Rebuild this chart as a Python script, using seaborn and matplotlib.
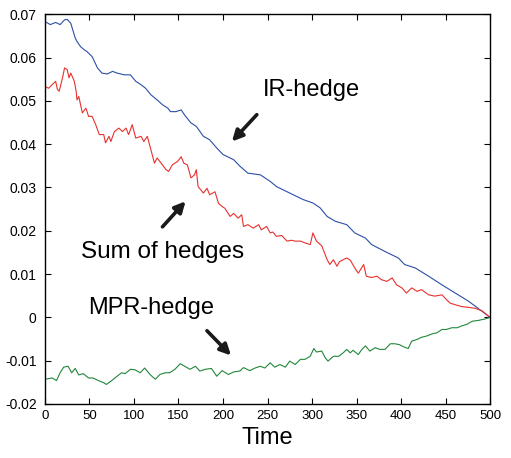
import matplotlib
matplotlib.use("Agg")
import matplotlib.pyplot as plt
import seaborn as sns
import pandas as pd

# Hedge components over time
ir_t = [0, 6, 12, 17, 22, 25, 29, 34, 36, 40, 44, 47, 53, 59, 64, 70, 76, 81, 89, 96,
        102, 108, 113, 119, 126, 132, 138, 141, 147, 153, 158, 164, 170, 178, 185, 193,
        200, 212, 219, 228, 242, 253, 260, 275, 290, 301, 309, 317, 326, 339, 348, 360,
        367, 382, 397, 404, 416, 431, 446, 461, 476, 491, 500]
ir_v = [0.0683, 0.0676, 0.0681, 0.0676, 0.0687, 0.0688, 0.0679, 0.0645, 0.0637, 0.0625,
        0.0618, 0.0614, 0.0602, 0.0576, 0.0564, 0.0562, 0.0568, 0.0564, 0.0560, 0.0560,
        0.0545, 0.0537, 0.0529, 0.0514, 0.0502, 0.0491, 0.0483, 0.0475, 0.0475, 0.0479,
        0.0464, 0.0449, 0.0441, 0.0418, 0.0410, 0.0391, 0.0376, 0.0364, 0.0349, 0.0333,
        0.0329, 0.0314, 0.0302, 0.0287, 0.0272, 0.0264, 0.0253, 0.0233, 0.0222, 0.0214,
        0.0195, 0.0183, 0.0168, 0.0152, 0.0137, 0.0122, 0.0114, 0.0095, 0.0075, 0.0056,
        0.0037, 0.0014, 0.0]

sum_t = [0, 4, 8, 12, 14, 16, 20, 22, 25, 27, 29, 33, 35, 36, 38, 42, 46, 49, 53, 57,
         61, 66, 68, 72, 74, 78, 83, 87, 91, 94, 98, 102, 108, 111, 115, 119, 123, 126,
         132, 136, 139, 143, 149, 153, 156, 160, 164, 168, 170, 172, 178, 182, 185, 191,
         195, 199, 202, 208, 212, 217, 221, 223, 228, 234, 240, 243, 249, 253, 256, 260,
         266, 272, 277, 281, 287, 292, 298, 301, 305, 311, 317, 320, 324, 328, 331, 339,
         343, 348, 352, 358, 361, 367, 373, 378, 384, 390, 395, 401, 406, 412, 418, 423,
         431, 438, 446, 451, 455, 461, 468, 476, 483, 491, 500]
sum_v = [0.0533, 0.0529, 0.0537, 0.0545, 0.0526, 0.0522, 0.0556, 0.0576, 0.0572, 0.0553,
         0.0564, 0.0545, 0.0522, 0.0502, 0.0510, 0.0472, 0.0483, 0.0464, 0.0464, 0.0445,
         0.0422, 0.0422, 0.0403, 0.0418, 0.0406, 0.0429, 0.0437, 0.0429, 0.0437, 0.0422,
         0.0445, 0.0414, 0.0418, 0.0406, 0.0418, 0.0387, 0.0356, 0.0368, 0.0352, 0.0341,
         0.0337, 0.0352, 0.0360, 0.0371, 0.0356, 0.0352, 0.0322, 0.0329, 0.0341, 0.0302,
         0.0287, 0.0298, 0.0283, 0.0290, 0.0263, 0.0256, 0.0252, 0.0233, 0.0240, 0.0229,
         0.0237, 0.0210, 0.0214, 0.0206, 0.0214, 0.0202, 0.0210, 0.0195, 0.0197, 0.0187,
         0.0189, 0.0176, 0.0178, 0.0176, 0.0176, 0.0172, 0.0168, 0.0195, 0.0176, 0.0165,
         0.0133, 0.0122, 0.0133, 0.0118, 0.0129, 0.0137, 0.0132, 0.0114, 0.0102, 0.0122,
         0.0095, 0.0092, 0.0095, 0.0087, 0.0083, 0.0091, 0.0075, 0.0068, 0.0056, 0.0068,
         0.0060, 0.0064, 0.0052, 0.0049, 0.0052, 0.0041, 0.0033, 0.0029, 0.0025, 0.0023,
         0.0021, 0.0015, 0.0]

mpr_t = [0, 8, 13, 17, 21, 26, 30, 34, 38, 43, 49, 54, 60, 66, 69, 75, 81, 86, 90, 96,
         101, 107, 112, 118, 124, 129, 135, 140, 146, 152, 157, 163, 169, 174, 180, 187,
         193, 199, 206, 212, 219, 223, 230, 236, 242, 247, 253, 258, 264, 270, 275, 281,
         287, 292, 298, 302, 305, 311, 315, 318, 324, 330, 335, 339, 343, 346, 352, 356,
         360, 365, 371, 376, 382, 388, 393, 398, 404, 408, 412, 418, 423, 429, 435, 440,
         446, 451, 457, 463, 468, 474, 480, 487, 494, 500]
mpr_v = [-0.0143, -0.0140, -0.0146, -0.0128, -0.0115, -0.0113, -0.0128, -0.0118, -0.0133,
         -0.0130, -0.0140, -0.0140, -0.0146, -0.0151, -0.0155, -0.0146, -0.0136, -0.0128,
         -0.0130, -0.0120, -0.0121, -0.0128, -0.0117, -0.0132, -0.0143, -0.0132, -0.0128,
         -0.0128, -0.0120, -0.0107, -0.0113, -0.0120, -0.0113, -0.0124, -0.0120, -0.0118,
         -0.0136, -0.0123, -0.0132, -0.0126, -0.0124, -0.0116, -0.0123, -0.0117, -0.0113,
         -0.0117, -0.0105, -0.0115, -0.0109, -0.0115, -0.0101, -0.0109, -0.0097, -0.0097,
         -0.0090, -0.0072, -0.0080, -0.0078, -0.0094, -0.0101, -0.0090, -0.0090, -0.0082,
         -0.0074, -0.0082, -0.0076, -0.0086, -0.0074, -0.0066, -0.0078, -0.0070, -0.0074,
         -0.0074, -0.0061, -0.0061, -0.0063, -0.0069, -0.0072, -0.0055, -0.0051, -0.0046,
         -0.0043, -0.0038, -0.0036, -0.0028, -0.0028, -0.0024, -0.0024, -0.0020, -0.0016,
         -0.0009, -0.0007, -0.0004, 0.0]

x_ticks = [0, 50, 100, 150, 200, 250, 300, 350, 400, 450, 500]
y_ticks = [-0.02, -0.01, 0, 0.01, 0.02, 0.03, 0.04, 0.05, 0.06, 0.07]
y_tick_labels = ["-0.02", "-0.01", "0", "0.01", "0.02", "0.03", "0.04", "0.05", "0.06", "0.07"]

df = pd.concat([
    pd.DataFrame({"Time": ir_t, "value": ir_v, "series": "IR-hedge"}),
    pd.DataFrame({"Time": sum_t, "value": sum_v, "series": "Sum of hedges"}),
    pd.DataFrame({"Time": mpr_t, "value": mpr_v, "series": "MPR-hedge"}),
])

sns.set_style("ticks")
plt.rcParams["font.family"] = ["Liberation Sans", "DejaVu Sans"]
plt.rcParams["text.color"] = "black"
plt.rcParams["axes.labelcolor"] = "black"

fig = plt.figure(figsize=(5.11, 4.58), dpi=100)
ax = fig.add_axes([0.088, 0.118, 0.871, 0.851])

palette = {"IR-hedge": "#2b4ea6", "Sum of hedges": "#e8312e", "MPR-hedge": "#23873a"}
sns.lineplot(data=df, x="Time", y="value", hue="series", palette=palette,
             estimator=None, linewidth=0.8, legend=False, ax=ax)

ax.set_xlim(0, 500)
ax.set_ylim(-0.02, 0.07)
ax.set_xticks(x_ticks)
ax.set_yticks(y_ticks)
ax.set_yticklabels(y_tick_labels)
ax.tick_params(direction="in", top=True, right=True, length=4, width=0.8,
               colors="black")
ax.tick_params(axis="x", labelsize=9.5, pad=4)
ax.tick_params(axis="y", labelsize=10, pad=6)
for s in ax.spines.values():
    s.set_visible(True)
    s.set_linewidth(1.0)
    s.set_color("black")
ax.set_xlabel("Time", fontsize=17, labelpad=4, color="black")
ax.set_ylabel("")

arrow = dict(arrowstyle="-|>", lw=2.6, color="#1a1a1a", mutation_scale=16,
             shrinkA=0, shrinkB=0)
ax.text(245, 0.0526, "IR-hedge", fontsize=17, ha="left", va="center", color="black")
ax.annotate("", xy=(210, 0.0406), xytext=(238, 0.0468), arrowprops=arrow)

ax.text(41, 0.0152, "Sum of hedges", fontsize=17.5, ha="left", va="center", color="black")
ax.annotate("", xy=(158, 0.0268), xytext=(132, 0.0209), arrowprops=arrow)

ax.text(48, 0.0022, "MPR-hedge", fontsize=17, ha="left", va="center", color="black")
ax.annotate("", xy=(209, -0.0088), xytext=(182, -0.0031), arrowprops=arrow)

fig.savefig("out.png", dpi=100)
